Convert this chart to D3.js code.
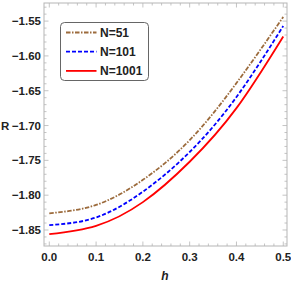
<!DOCTYPE html>
<html>
<head>
<meta charset="utf-8">
<script src="https://cdn.jsdelivr.net/npm/d3@7"></script>
<style>
  body { margin: 0; background: #fff; }
  text { font-family: "Liberation Sans", Arial, sans-serif; }
</style>
</head>
<body>
<div id="app"></div>
<script>
const hValues = [0.0, 0.1, 0.2, 0.3, 0.4, 0.5];
const rN51 = [-1.826, -1.814, -1.778, -1.721, -1.639, -1.544];
const rN101 = [-1.843, -1.832, -1.795, -1.738, -1.659, -1.557];
const rN1001 = [-1.856, -1.844, -1.810, -1.752, -1.675, -1.572];
const seriesNames = ["N=51", "N=101", "N=1001"];
const xTicks = [0.0, 0.1, 0.2, 0.3, 0.4, 0.5];
const yTicks = [-1.85, -1.80, -1.75, -1.70, -1.65, -1.60, -1.55];

const chart = () => {
  const width = 291;
  const height = 284;
  const margin = { top: 3, right: 4, bottom: 38, left: 44 };

  const svg = d3.create("svg").attr("width", width).attr("height", height);

  const x = d3
    .scaleLinear()
    .domain([-0.0113, 0.508])
    .range([margin.left, width - margin.right]);

  const y = d3
    .scaleLinear()
    .domain([-1.873, -1.524])
    .range([height - margin.bottom, margin.top]);

  const frameColor = "#b5b5b5";
  const textColor = "#222";

  // minor ticks
  const xMinor = d3.range(0, 0.5001, 0.02);
  const yMinor = d3.range(-1.87, -1.5249, 0.01);

  const ticks = svg.append("g").attr("stroke", frameColor).attr("stroke-width", 0.8);
  const x0 = x.range()[0], x1 = x.range()[1];
  const y0 = y.range()[0], y1 = y.range()[1];

  xMinor.forEach((v) => {
    const major = xTicks.some((t) => Math.abs(t - v) < 1e-6);
    const len = major ? 4.5 : 2.5;
    ticks.append("line").attr("x1", x(v)).attr("x2", x(v)).attr("y1", y0).attr("y2", y0 - len);
    ticks.append("line").attr("x1", x(v)).attr("x2", x(v)).attr("y1", y1).attr("y2", y1 + len);
  });
  yMinor.forEach((v) => {
    const major = yTicks.some((t) => Math.abs(t - v) < 1e-6);
    const len = major ? 4.5 : 2.5;
    ticks.append("line").attr("y1", y(v)).attr("y2", y(v)).attr("x1", x0).attr("x2", x0 + len);
    ticks.append("line").attr("y1", y(v)).attr("y2", y(v)).attr("x1", x1).attr("x2", x1 - len);
  });

  // series
  const data = [rN51, rN101, rN1001];
  const colors = ["#9c6b3c", "#0000ff", "#ff0000"];
  const dashes = ["4.5,1.5,1.5,1.5", "4,2", null];

  const line = d3
    .line()
    .x((d, i) => x(hValues[i]))
    .y((d) => y(d))
    .curve(d3.curveNatural);

  data.forEach((vals, k) => {
    svg
      .append("path")
      .attr("d", line(vals))
      .attr("fill", "none")
      .attr("stroke", colors[k])
      .attr("stroke-width", 1.8)
      .attr("stroke-dasharray", dashes[k]);
  });

  // frame
  svg
    .append("rect")
    .attr("x", x0)
    .attr("y", y1)
    .attr("width", x1 - x0)
    .attr("height", y0 - y1)
    .attr("fill", "none")
    .attr("stroke", frameColor)
    .attr("stroke-width", 1);

  // tick labels
  svg
    .append("g")
    .selectAll("text")
    .data(xTicks)
    .enter()
    .append("text")
    .attr("x", (d) => x(d))
    .attr("y", y0 + 15)
    .attr("text-anchor", "middle")
    .style("font-size", "11.5px")
    .style("font-weight", "bold")
    .attr("fill", textColor)
    .text((d) => d.toFixed(1));

  svg
    .append("g")
    .selectAll("text")
    .data(yTicks)
    .enter()
    .append("text")
    .attr("x", x0 - 3)
    .attr("y", (d) => y(d) + 4)
    .attr("text-anchor", "end")
    .style("font-size", "11.5px")
    .style("font-weight", "bold")
    .attr("fill", textColor)
    .text((d) => d.toFixed(2).replace("-", "\u2212"));

  // axis labels
  svg
    .append("text")
    .text("R")
    .attr("x", 1)
    .attr("y", y(-1.70) + 4)
    .style("font-size", "11.5px")
    .style("font-weight", "bold")
    .attr("fill", textColor);

  svg
    .append("text")
    .text("h")
    .attr("x", 165)
    .attr("y", 280)
    .attr("text-anchor", "middle")
    .style("font-size", "12px")
    .style("font-weight", "bold")
    .style("font-style", "italic")
    .attr("fill", textColor);

  // legend
  const legend = svg.append("g");
  legend
    .append("rect")
    .attr("x", 60.5)
    .attr("y", 22.5)
    .attr("width", 88)
    .attr("height", 58)
    .attr("rx", 4)
    .attr("fill", "#fff")
    .attr("stroke", "#555")
    .attr("stroke-width", 0.9);

  seriesNames.forEach((name, k) => {
    const ly = 32.5 + k * 19.2;
    legend
      .append("line")
      .attr("x1", 66)
      .attr("x2", 96.5)
      .attr("y1", ly)
      .attr("y2", ly)
      .attr("stroke", colors[k])
      .attr("stroke-width", 1.8)
      .attr("stroke-dasharray", dashes[k]);
    legend
      .append("text")
      .text(name)
      .attr("x", 100)
      .attr("y", ly + 4)
      .style("font-size", "12px")
      .style("font-weight", "bold")
      .attr("fill", textColor);
  });

  return svg.node();
};

d3.select("#app").append(chart);
</script>
</body>
</html>
